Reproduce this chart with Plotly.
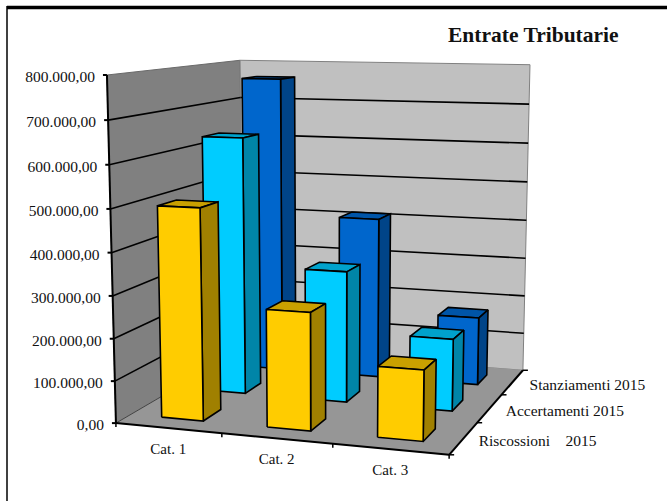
import numpy as np
import plotly.graph_objects as go

title = "Entrate Tributarie"
categories = ["Cat. 1", "Cat. 2", "Cat. 3"]
series_names = ["Riscossioni    2015", "Accertamenti 2015", "Stanziamenti 2015"]
riscossioni = [500000, 275000, 163000]
accertamenti = [635000, 322000, 175000]
stanziamenti = [762000, 412000, 173000]
series_values = [riscossioni, accertamenti, stanziamenti]
value_ticks = [0, 100000, 200000, 300000, 400000, 500000, 600000, 700000, 800000]
value_labels = ["0,00", "100.000,00", "200.000,00", "300.000,00", "400.000,00",
                "500.000,00", "600.000,00", "700.000,00", "800.000,00"]
value_max = 800000

# (front face, top face, side face) per series
palette = [("#FFCC00", "#C9A000", "#A08000"),
           ("#00CCFF", "#00A2CC", "#0085A8"),
           ("#0066CC", "#0055A8", "#004488")]

# Camera calibration: unit box corner -> page pixel
CALIB = [((0, 0, 0), (116, 422)), ((1, 0, 0), (449, 456)), ((1, 1, 0), (523, 369)),
         ((0, 1, 0), (243, 350)), ((0, 0, 1), (107, 75)), ((0, 1, 1), (240, 60)),
         ((1, 1, 1), (530, 65))]
rows = []
for (X, Y, Z), (px, py) in CALIB:
    rows.append([X, Y, Z, 1, 0, 0, 0, 0, -px*X, -px*Y, -px*Z, -px])
    rows.append([0, 0, 0, 0, X, Y, Z, 1, -py*X, -py*Y, -py*Z, -py])
P = np.linalg.svd(np.array(rows, float))[2][-1].reshape(3, 4)


def proj(u, v, w):
    h = P @ np.array([u, v, w, 1.0])
    return h[0]/h[2], h[1]/h[2]


fig = go.Figure()


def poly(pts, fill, line="black", width=1.6):
    xy = [proj(*p) for p in pts]
    xy.append(xy[0])
    fig.add_trace(go.Scatter(x=[a for a, _ in xy], y=[b for _, b in xy], mode="lines",
                             fill="toself", fillcolor=fill, hoverinfo="skip",
                             line=dict(color=line or fill, width=width if line else 0.5)))


def seg(a, b, color="black", width=1.6):
    pa, pb = proj(*a), proj(*b)
    fig.add_trace(go.Scatter(x=[pa[0], pb[0]], y=[pa[1], pb[1]], mode="lines",
                             hoverinfo="skip", line=dict(color=color, width=width)))


# walls and floor
poly([(0, 0, 0), (0, 1, 0), (0, 1, 1), (0, 0, 1)], "#808080", "#6a6a6a", 1)
poly([(0, 1, 0), (1, 1, 0), (1, 1, 1), (0, 1, 1)], "#C0C0C0", "#808080", 1)
poly([(0, 0, 0), (1, 0, 0), (1, 1, 0), (0, 1, 0)], "#969696", None)
seg((0, 0, 0), (0, 1, 0), "#444444", 1)

# gridlines
for t in value_ticks[1:-1]:
    w = t/value_max
    seg((0, 0, w), (0, 1, w))
    seg((0, 1, w), (1, 1, w))

# bars, back to front
n_cat, n_ser = len(categories), len(series_names)
BAR = 0.4
for s in reversed(range(n_ser)):
    front, top, side = palette[s]
    v0 = (s + (1-BAR)/2)/n_ser
    v1 = v0 + BAR/n_ser
    for c in range(n_cat):
        u0 = (c + (1-BAR)/2)/n_cat
        u1 = u0 + BAR/n_cat
        w = series_values[s][c]/value_max
        poly([(u0, v0, w), (u1, v0, w), (u1, v1, w), (u0, v1, w)], top)
        poly([(u1, v0, 0), (u1, v1, 0), (u1, v1, w), (u1, v0, w)], side)
        poly([(u0, v0, 0), (u1, v0, 0), (u1, v0, w), (u0, v0, w)], front)

# axes
seg((0, 0, 0), (0, 0, 1), "black", 2)
seg((0, 0, 0), (1, 0, 0), "black", 2)
seg((1, 0, 0), (1, 1, 0), "black", 2)

tx, ty = [], []
for t in value_ticks:
    x, y = proj(0, 0, t/value_max)
    fig.add_trace(go.Scatter(x=[x-4, x], y=[y, y], mode="lines", hoverinfo="skip",
                             line=dict(color="black", width=2)))
    tx.append(x-12)
    ty.append(y+3)
fig.add_trace(go.Scatter(x=tx, y=ty, mode="text", text=value_labels, textposition="middle left",
                         hoverinfo="skip", textfont=dict(family="Liberation Serif", size=15.5, color="#111111")))

# category ticks and labels
for c in range(n_cat+1):
    x, y = proj(c/n_cat, 0, 0)
    fig.add_trace(go.Scatter(x=[x, x], y=[y, y+4], mode="lines", hoverinfo="skip",
                             line=dict(color="black", width=1.5)))
cx, cy = [], []
for c in range(n_cat):
    x, y = proj((c+0.5)/n_cat, 0, 0)
    cx.append(x)
    cy.append(y + 22)
fig.add_trace(go.Scatter(x=cx, y=cy, mode="text", text=categories, textposition="middle center",
                         hoverinfo="skip", textfont=dict(family="Liberation Serif", size=15, color="#111111")))

# series ticks and labels
for s in range(n_ser+1):
    x, y = proj(1, s/n_ser, 0)
    fig.add_trace(go.Scatter(x=[x, x+5], y=[y, y], mode="lines", hoverinfo="skip",
                             line=dict(color="black", width=1.5)))
sx, sy = [], []
for s in range(n_ser):
    x, y = proj(1, (s+0.5)/n_ser, 0)
    sx.append(x + 15 + s)
    sy.append(y + 3.5)
fig.add_trace(go.Scatter(x=sx, y=sy, mode="text", text=series_names, textposition="middle right",
                         hoverinfo="skip", textfont=dict(family="Liberation Serif", size=15.5, color="#111111")))

# title and frame
fig.add_annotation(x=533, y=35, xref="x", yref="y", text="<b>%s</b>" % title, showarrow=False,
                   font=dict(family="Liberation Serif", size=21.5, color="#111111"))
fig.add_shape(type="line", x0=7, x1=667, y0=7.5, y1=7.5, xref="x", yref="y", line=dict(color="black", width=3.5))
fig.add_shape(type="line", x0=7, x1=7, y0=6, y1=501, xref="x", yref="y", line=dict(color="black", width=1.5))

fig.update_layout(width=667, height=501, margin=dict(l=0, r=0, t=0, b=0), showlegend=False,
                  paper_bgcolor="white", plot_bgcolor="white",
                  xaxis=dict(range=[0, 667], visible=False, fixedrange=True),
                  yaxis=dict(range=[501, 0], visible=False, fixedrange=True))
fig.write_html("out.html", config=dict(displayModeBar=False),
               post_script="document.body.style.margin='0';document.body.style.overflow='hidden';")
